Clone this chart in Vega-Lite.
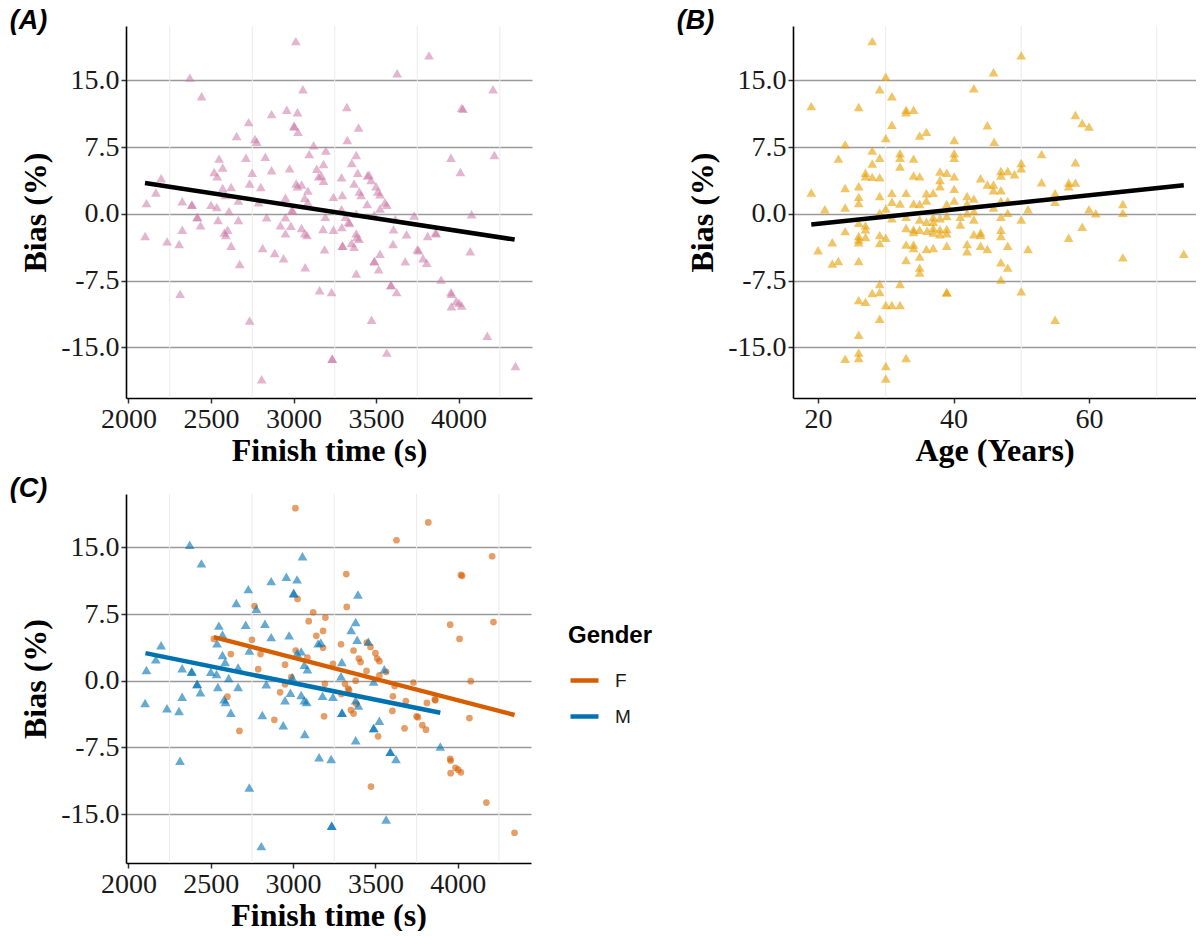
{
  "$schema": "https://vega.github.io/schema/vega-lite/v6.json",
  "background": "white",
  "padding": {"left": 9, "top": 6, "right": 0, "bottom": 0},
  "config": {
    "view": {"stroke": null},
    "font": "Liberation Serif",
    "axis": {"labelFont": "Liberation Serif", "labelFontSize": 28, "labelColor": "#1a1a1a", "titleFont": "Liberation Serif", "titleFontSize": 32, "titleFontWeight": "bold", "titleColor": "black", "domainColor": "black", "domainWidth": 1.6, "tickColor": "#333333", "tickWidth": 1.5, "tickSize": 5, "gridColor": "#9a9a9a", "gridWidth": 1.7, "labelPadding": 2},
    "axisX": {"grid": false, "titlePadding": 2},
    "axisY": {"grid": true, "titlePadding": 8},
    "title": {"font": "Liberation Sans", "fontStyle": "italic", "fontWeight": "bold", "fontSize": 27, "anchor": "start", "frame": "bounds", "color": "black"},
    "legend": {"titleFont": "Liberation Sans", "labelFont": "Liberation Sans"}
  },
  "datasets": {
    "time": [
      {"t":2372,"b":15.3,"g":"M"},{"t":2443,"b":13.2,"g":"M"},{"t":3057,"b":14.0,"g":"M"},{"t":2959,"b":11.7,"g":"M"},{"t":3024,"b":11.4,"g":"M"},{"t":2867,"b":11.2,"g":"M"},{"t":2728,"b":10.3,"g":"M"},{"t":3003,"b":9.9,"g":"M"},{"t":3005,"b":9.8,"g":"M"},{"t":3394,"b":9.7,"g":"M"},{"t":2655,"b":8.75,"g":"M"},{"t":2777,"b":8.1,"g":"M"},{"t":3380,"b":6.6,"g":"M"},{"t":2549,"b":6.2,"g":"M"},{"t":2712,"b":6.3,"g":"M"},{"t":2829,"b":6.4,"g":"M"},{"t":2976,"b":5.1,"g":"M"},{"t":2867,"b":4.9,"g":"M"},{"t":3353,"b":5.7,"g":"M"},{"t":3389,"b":4.6,"g":"M"},{"t":3457,"b":4.4,"g":"M"},{"t":3152,"b":4.2,"g":"M"},{"t":3168,"b":4.3,"g":"M"},{"t":2538,"b":4.2,"g":"M"},{"t":2198,"b":4.0,"g":"M"},{"t":2571,"b":5.2,"g":"M"},{"t":2734,"b":3.4,"g":"M"},{"t":3049,"b":3.3,"g":"M"},{"t":3024,"b":3.1,"g":"M"},{"t":2571,"b":2.9,"g":"M"},{"t":2166,"b":2.4,"g":"M"},{"t":2587,"b":2.1,"g":"M"},{"t":3296,"b":2.1,"g":"M"},{"t":3068,"b":1.8,"g":"M"},{"t":3087,"b":1.3,"g":"M"},{"t":2666,"b":1.5,"g":"M"},{"t":2326,"b":1.4,"g":"M"},{"t":2109,"b":1.2,"g":"M"},{"t":2383,"b":1.0,"g":"M"},{"t":2385,"b":1.05,"g":"M"},{"t":2500,"b":1.0,"g":"M"},{"t":2535,"b":0.75,"g":"M"},{"t":3554,"b":1.3,"g":"M"},{"t":2609,"b":0.3,"g":"M"},{"t":3291,"b":0.5,"g":"M"},{"t":2995,"b":0.4,"g":"M"},{"t":3489,"b":-0.1,"g":"M"},{"t":2416,"b":-0.4,"g":"M"},{"t":2418,"b":-0.35,"g":"M"},{"t":2837,"b":-0.4,"g":"M"},{"t":2666,"b":-0.7,"g":"M"},{"t":2543,"b":-0.7,"g":"M"},{"t":2437,"b":-1.3,"g":"M"},{"t":2984,"b":-1.35,"g":"M"},{"t":3049,"b":-1.6,"g":"M"},{"t":3179,"b":-1.7,"g":"M"},{"t":3242,"b":-1.8,"g":"M"},{"t":2326,"b":-1.8,"g":"M"},{"t":2581,"b":-2.1,"g":"M"},{"t":2951,"b":-2.2,"g":"M"},{"t":3068,"b":-2.2,"g":"M"},{"t":3082,"b":-2.4,"g":"M"},{"t":3380,"b":-2.2,"g":"M"},{"t":2101,"b":-2.5,"g":"M"},{"t":2590,"b":-2.4,"g":"M"},{"t":3397,"b":-2.8,"g":"M"},{"t":2234,"b":-3.1,"g":"M"},{"t":2307,"b":-3.4,"g":"M"},{"t":2622,"b":-3.6,"g":"M"},{"t":2813,"b":-3.85,"g":"M"},{"t":3296,"b":-3.6,"g":"M"},{"t":3298,"b":-3.6,"g":"M"},{"t":2940,"b":-5.0,"g":"M"},{"t":3524,"b":-4.5,"g":"M"},{"t":3489,"b":-5.35,"g":"M"},{"t":3490,"b":-5.3,"g":"M"},{"t":3071,"b":-6.0,"g":"M"},{"t":3380,"b":-6.7,"g":"M"},{"t":3894,"b":-7.4,"g":"M"},{"t":3590,"b":-8.0,"g":"M"},{"t":3591,"b":-8.0,"g":"M"},{"t":3625,"b":-8.8,"g":"M"},{"t":2313,"b":-9.0,"g":"M"},{"t":3158,"b":-8.6,"g":"M"},{"t":3231,"b":-8.8,"g":"M"},{"t":2734,"b":-12.0,"g":"M"},{"t":3565,"b":-15.6,"g":"M"},{"t":3234,"b":-16.3,"g":"M"},{"t":3235,"b":-16.3,"g":"M"},{"t":2807,"b":-18.6,"g":"M"},
      {"t":3014,"b":19.4,"g":"F"},{"t":3821,"b":17.8,"g":"F"},{"t":3628,"b":15.8,"g":"F"},{"t":4209,"b":14.0,"g":"F"},{"t":3323,"b":12.0,"g":"F"},{"t":4019,"b":11.9,"g":"F"},{"t":4027,"b":11.8,"g":"F"},{"t":3027,"b":9.2,"g":"F"},{"t":2766,"b":8.4,"g":"F"},{"t":3326,"b":8.3,"g":"F"},{"t":3122,"b":7.7,"g":"F"},{"t":3196,"b":7.1,"g":"F"},{"t":3095,"b":6.7,"g":"F"},{"t":3954,"b":6.3,"g":"F"},{"t":4217,"b":6.6,"g":"F"},{"t":3182,"b":5.6,"g":"F"},{"t":3141,"b":5.05,"g":"F"},{"t":4011,"b":4.7,"g":"F"},{"t":2519,"b":4.7,"g":"F"},{"t":2750,"b":4.6,"g":"F"},{"t":3291,"b":4.1,"g":"F"},{"t":3448,"b":4.3,"g":"F"},{"t":3470,"b":3.8,"g":"F"},{"t":3182,"b":3.7,"g":"F"},{"t":3016,"b":3.4,"g":"F"},{"t":3367,"b":3.4,"g":"F"},{"t":3500,"b":3.1,"g":"F"},{"t":2622,"b":3.0,"g":"F"},{"t":2802,"b":3.0,"g":"F"},{"t":3511,"b":2.5,"g":"F"},{"t":3399,"b":2.5,"g":"F"},{"t":3087,"b":2.6,"g":"F"},{"t":3524,"b":2.2,"g":"F"},{"t":3410,"b":2.1,"g":"F"},{"t":2951,"b":1.8,"g":"F"},{"t":3242,"b":1.9,"g":"F"},{"t":2788,"b":1.3,"g":"F"},{"t":3446,"b":1.1,"g":"F"},{"t":3565,"b":1.0,"g":"F"},{"t":3524,"b":0.6,"g":"F"},{"t":2989,"b":0.4,"g":"F"},{"t":3380,"b":0.0,"g":"F"},{"t":4079,"b":-0.05,"g":"F"},{"t":3731,"b":-0.2,"g":"F"},{"t":2951,"b":-0.4,"g":"F"},{"t":3193,"b":-0.35,"g":"F"},{"t":3315,"b":-0.35,"g":"F"},{"t":3334,"b":-0.9,"g":"F"},{"t":3617,"b":-0.6,"g":"F"},{"t":2921,"b":-1.3,"g":"F"},{"t":3340,"b":-1.05,"g":"F"},{"t":2601,"b":-1.8,"g":"F"},{"t":3606,"b":-1.75,"g":"F"},{"t":3293,"b":-1.5,"g":"F"},{"t":3685,"b":-2.3,"g":"F"},{"t":3864,"b":-2.2,"g":"F"},{"t":3813,"b":-2.5,"g":"F"},{"t":3861,"b":-2.1,"g":"F"},{"t":3603,"b":-3.4,"g":"F"},{"t":3351,"b":-3.3,"g":"F"},{"t":3367,"b":-3.7,"g":"F"},{"t":3750,"b":-4.0,"g":"F"},{"t":3758,"b":-4.1,"g":"F"},{"t":3188,"b":-4.0,"g":"F"},{"t":2886,"b":-4.4,"g":"F"},{"t":3383,"b":-2.6,"g":"F"},{"t":4071,"b":-4.2,"g":"F"},{"t":2674,"b":-5.65,"g":"F"},{"t":3677,"b":-5.35,"g":"F"},{"t":3516,"b":-6.25,"g":"F"},{"t":3785,"b":-5.0,"g":"F"},{"t":3807,"b":-5.5,"g":"F"},{"t":3954,"b":-8.8,"g":"F"},{"t":3957,"b":-9.0,"g":"F"},{"t":3957,"b":-10.4,"g":"F"},{"t":3986,"b":-9.8,"g":"F"},{"t":4003,"b":-10.0,"g":"F"},{"t":4019,"b":-10.3,"g":"F"},{"t":3473,"b":-11.9,"g":"F"},{"t":4174,"b":-13.7,"g":"F"},{"t":4345,"b":-17.1,"g":"F"}
    ],
    "age": [
      {"age":28,"b":19.4},{"age":50,"b":17.8},{"age":30,"b":15.4},{"age":45.9,"b":15.9},{"age":43,"b":14.1},{"age":29.1,"b":14.0},{"age":30.9,"b":13.2},{"age":19,"b":12.1},{"age":26,"b":12.0},{"age":34.1,"b":11.7},{"age":33,"b":11.7},{"age":33,"b":11.4},{"age":58,"b":11.1},{"age":59,"b":10.2},{"age":60,"b":9.8},{"age":30.9,"b":10.0},{"age":45,"b":9.95},{"age":36,"b":9.2},{"age":35,"b":8.8},{"age":30,"b":8.5},{"age":40.1,"b":8.3},{"age":46,"b":8.1},{"age":24,"b":7.8},{"age":28,"b":7.1},{"age":53,"b":6.7},{"age":32.1,"b":6.8},{"age":40.1,"b":6.8},{"age":40.1,"b":6.3},{"age":32.1,"b":6.3},{"age":34.1,"b":6.2},{"age":29.1,"b":6.3},{"age":23,"b":6.2},{"age":28,"b":5.65},{"age":50,"b":5.7},{"age":58,"b":5.8},{"age":50,"b":5.1},{"age":32.1,"b":5.3},{"age":38,"b":4.75},{"age":39,"b":4.6},{"age":47,"b":4.8},{"age":48,"b":4.8},{"age":49,"b":4.45},{"age":27,"b":4.6},{"age":27,"b":4.2},{"age":28,"b":4.15},{"age":29.1,"b":4.1},{"age":34.1,"b":4.3},{"age":35,"b":4.2},{"age":40.1,"b":4.2},{"age":47,"b":4.3},{"age":44,"b":4.0},{"age":38,"b":3.8},{"age":53,"b":3.55},{"age":57,"b":3.5},{"age":58,"b":3.5},{"age":45,"b":3.3},{"age":45.9,"b":3.3},{"age":57,"b":3.1},{"age":45.9,"b":2.65},{"age":47,"b":2.65},{"age":19,"b":2.4},{"age":26,"b":3.1},{"age":24,"b":2.9},{"age":38,"b":3.1},{"age":40.1,"b":2.8},{"age":37,"b":2.35},{"age":33,"b":2.35},{"age":30.9,"b":2.35},{"age":36,"b":2.3},{"age":55,"b":2.3},{"age":26,"b":1.9},{"age":29.1,"b":2.0},{"age":42,"b":2.0},{"age":43,"b":1.7},{"age":40.1,"b":1.5},{"age":36,"b":1.5},{"age":47,"b":1.45},{"age":48,"b":1.45},{"age":65,"b":1.1},{"age":55,"b":1.35},{"age":30.9,"b":1.35},{"age":26,"b":1.2},{"age":34.1,"b":1.15},{"age":32.1,"b":1.15},{"age":35,"b":1.1},{"age":39,"b":1.1},{"age":42,"b":1.15},{"age":24,"b":0.7},{"age":45.9,"b":0.7},{"age":30,"b":0.6},{"age":21,"b":0.5},{"age":51,"b":0.5},{"age":60,"b":0.5},{"age":29.1,"b":0.1},{"age":65,"b":0.1},{"age":61,"b":0.05},{"age":48,"b":0.1},{"age":42,"b":0.05},{"age":43,"b":0.3},{"age":33,"b":-0.35},{"age":39,"b":-0.25},{"age":41,"b":-0.35},{"age":47,"b":-0.35},{"age":37,"b":-0.4},{"age":30.9,"b":-0.5},{"age":38,"b":-0.5},{"age":35,"b":-0.65},{"age":43,"b":-0.65},{"age":50,"b":-0.65},{"age":36,"b":-0.9},{"age":37,"b":-0.9},{"age":26,"b":-1.0},{"age":41,"b":-1.2},{"age":27,"b":-1.3},{"age":59,"b":-1.45},{"age":33,"b":-1.6},{"age":34.1,"b":-1.75},{"age":35,"b":-1.8},{"age":37,"b":-1.6},{"age":38,"b":-1.75},{"age":39,"b":-1.7},{"age":36.1,"b":-1.9},{"age":27,"b":-1.75},{"age":24,"b":-1.95},{"age":34.1,"b":-2.05},{"age":37,"b":-2.1},{"age":38,"b":-2.3},{"age":39,"b":-2.2},{"age":44,"b":-2.1},{"age":43,"b":-2.3},{"age":47,"b":-1.8},{"age":47,"b":-2.5},{"age":26,"b":-2.5},{"age":27,"b":-2.6},{"age":29.1,"b":-2.4},{"age":30,"b":-2.7},{"age":26,"b":-2.9},{"age":44,"b":-2.4},{"age":57,"b":-2.7},{"age":22.1,"b":-3.2},{"age":29.1,"b":-3.3},{"age":26,"b":-3.2},{"age":33,"b":-3.45},{"age":34.1,"b":-3.45},{"age":42,"b":-3.4},{"age":39,"b":-3.6},{"age":44,"b":-3.6},{"age":48,"b":-3.6},{"age":34.1,"b":-3.85},{"age":36,"b":-3.95},{"age":37,"b":-3.85},{"age":45,"b":-3.95},{"age":51,"b":-3.95},{"age":20,"b":-4.1},{"age":42,"b":-4.2},{"age":65,"b":-4.9},{"age":74,"b":-4.5},{"age":35,"b":-4.8},{"age":23,"b":-5.3},{"age":22.1,"b":-5.6},{"age":26,"b":-5.3},{"age":33,"b":-5.2},{"age":47,"b":-5.45},{"age":35,"b":-6.05},{"age":48,"b":-6.05},{"age":35,"b":-6.6},{"age":47,"b":-7.4},{"age":29.1,"b":-7.9},{"age":32.1,"b":-7.9},{"age":28,"b":-8.9},{"age":29.1,"b":-8.8},{"age":39,"b":-8.8},{"age":39,"b":-8.85},{"age":50,"b":-8.7},{"age":26,"b":-9.7},{"age":27,"b":-9.9},{"age":30,"b":-10.25},{"age":30.9,"b":-10.25},{"age":32.1,"b":-10.25},{"age":29.1,"b":-11.8},{"age":55,"b":-11.9},{"age":26,"b":-13.6},{"age":26,"b":-15.6},{"age":26,"b":-16.2},{"age":24,"b":-16.3},{"age":33,"b":-16.2},{"age":30,"b":-17.1},{"age":30,"b":-18.5}
    ],
    "fitA": [{"t":2100,"b":3.45},{"t":4340,"b":-2.9}],
    "fitB": [{"age":19,"b":-1.2},{"age":74,"b":3.2}],
    "fitC": [{"t":2519,"b":4.9,"g":"F"},{"t":4345,"b":-3.85,"g":"F"},{"t":2103,"b":3.1,"g":"M"},{"t":3894,"b":-3.6,"g":"M"}],
    "gridT": [{"t":2250},{"t":2750},{"t":3250},{"t":3750},{"t":4250}],
    "gridAge": [{"age":30},{"age":50},{"age":70}]
  },
  "spacing": 8,
  "vconcat": [
    {
      "spacing": 144,
      "hconcat": [
        {
          "width": 406, "height": 372,
          "title": {"text": "(A)", "dx": -10, "offset": -9},
          "layer": [
            {"data": {"name": "gridT"}, "mark": {"type": "rule", "color": "#ebebeb", "strokeWidth": 1},
             "encoding": {"x": {"field": "t", "type": "quantitative", "scale": {"domain": [1985, 4445], "nice": false, "zero": false}}}},
            {"data": {"name": "time"}, "mark": {"type": "point", "shape": "triangle-up", "filled": true, "color": "#CC79A7", "opacity": 0.55, "size": 95},
             "encoding": {
               "x": {"field": "t", "type": "quantitative", "title": "Finish time (s)", "axis": {"values": [2000, 2500, 3000, 3500, 4000], "format": "d"}},
               "y": {"field": "b", "type": "quantitative", "title": "Bias (%)", "scale": {"domain": [-20.7, 21.1], "nice": false, "zero": false}, "axis": {"values": [-15, -7.5, 0, 7.5, 15], "labelExpr": "(datum.value < 0 ? '-' : '') + format(abs(datum.value), '.1f')"}}}},
            {"data": {"name": "fitA"}, "mark": {"type": "line", "color": "black", "strokeWidth": 4.5},
             "encoding": {"x": {"field": "t", "type": "quantitative"}, "y": {"field": "b", "type": "quantitative"}}}
          ]
        },
        {
          "width": 403, "height": 372,
          "title": {"text": "(B)", "dx": -10, "offset": -9},
          "layer": [
            {"data": {"name": "gridAge"}, "mark": {"type": "rule", "color": "#ebebeb", "strokeWidth": 1},
             "encoding": {"x": {"field": "age", "type": "quantitative", "scale": {"domain": [16.3, 75.8], "nice": false, "zero": false}}}},
            {"data": {"name": "age"}, "mark": {"type": "point", "shape": "triangle-up", "filled": true, "color": "#E69F00", "opacity": 0.6, "size": 95},
             "encoding": {
               "x": {"field": "age", "type": "quantitative", "title": "Age (Years)", "axis": {"values": [20, 40, 60]}},
               "y": {"field": "b", "type": "quantitative", "title": "Bias (%)", "scale": {"domain": [-20.7, 21.1], "nice": false, "zero": false}, "axis": {"values": [-15, -7.5, 0, 7.5, 15], "labelExpr": "(datum.value < 0 ? '-' : '') + format(abs(datum.value), '.1f')"}}}},
            {"data": {"name": "fitB"}, "mark": {"type": "line", "color": "black", "strokeWidth": 4.5},
             "encoding": {"x": {"field": "age", "type": "quantitative"}, "y": {"field": "b", "type": "quantitative"}}}
          ]
        }
      ]
    },
    {
      "width": 405, "height": 369,
      "title": {"text": "(C)", "dx": -10, "offset": -9},
      "layer": [
        {"data": {"name": "gridT"}, "mark": {"type": "rule", "color": "#ebebeb", "strokeWidth": 1},
         "encoding": {"x": {"field": "t", "type": "quantitative", "scale": {"domain": [1985, 4445], "nice": false, "zero": false}}}},
        {"data": {"name": "time"}, "transform": [{"filter": "datum.g === 'F'"}],
         "mark": {"type": "point", "shape": "circle", "filled": true, "color": "#D55E00", "opacity": 0.6, "size": 45},
         "encoding": {
           "x": {"field": "t", "type": "quantitative", "title": "Finish time (s)", "axis": {"values": [2000, 2500, 3000, 3500, 4000], "format": "d"}},
           "y": {"field": "b", "type": "quantitative", "title": "Bias (%)", "scale": {"domain": [-20.5, 21.0], "nice": false, "zero": false}, "axis": {"values": [-15, -7.5, 0, 7.5, 15], "labelExpr": "(datum.value < 0 ? '-' : '') + format(abs(datum.value), '.1f')"}}}},
        {"data": {"name": "time"}, "transform": [{"filter": "datum.g === 'M'"}],
         "mark": {"type": "point", "shape": "triangle-up", "filled": true, "color": "#0072B2", "opacity": 0.6, "size": 95},
         "encoding": {
           "x": {"field": "t", "type": "quantitative"},
           "y": {"field": "b", "type": "quantitative"}}},
        {"data": {"name": "fitC"}, "mark": {"type": "line", "strokeWidth": 4.5},
         "encoding": {
           "x": {"field": "t", "type": "quantitative"}, "y": {"field": "b", "type": "quantitative"},
           "stroke": {"field": "g", "type": "nominal", "title": "Gender", "scale": {"domain": ["F", "M"], "range": ["#D55E00", "#0072B2"]},
             "legend": {"orient": "none", "legendX": 442, "legendY": 598, "titleFontSize": 24, "titleFontWeight": "bold", "titleColor": "black", "labelFontSize": 19, "labelColor": "#1a1a1a", "symbolType": "stroke", "symbolStrokeWidth": 4.5, "symbolSize": 784, "rowPadding": 9, "titlePadding": 16, "labelOffset": 14}}}}
      ]
    }
  ]
}
